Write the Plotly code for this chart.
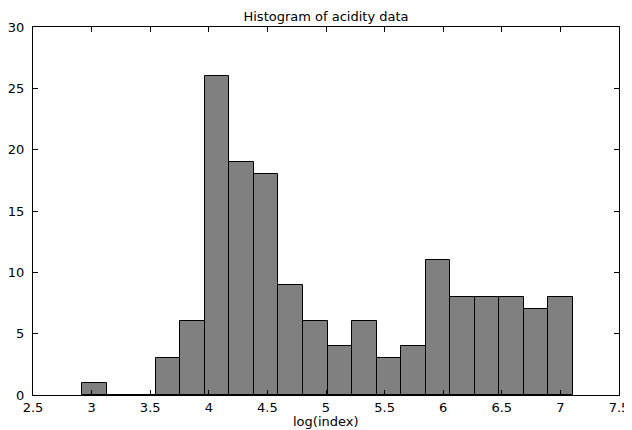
import plotly.graph_objects as go

# Histogram of acidity data (20 bins)
bin_start = 2.921
bin_width = 0.2092
counts = [1, 0, 0, 3, 6, 26, 19, 18, 9, 6, 4, 6, 3, 4, 11, 8, 8, 8, 7, 8]
x_ticks = [2.5, 3, 3.5, 4, 4.5, 5, 5.5, 6, 6.5, 7, 7.5]
x_tick_labels = ["2.5", "3", "3.5", "4", "4.5", "5", "5.5", "6", "6.5", "7", "7.5"]
y_ticks = [0, 5, 10, 15, 20, 25, 30]

centers = [bin_start + bin_width * (i + 0.5) for i in range(len(counts))]

font = dict(family="DejaVu Sans, Liberation Sans, Arial, sans-serif", size=13, color="black")

fig = go.Figure()
fig.add_trace(go.Bar(
    x=centers, y=counts, width=[bin_width] * len(counts),
    marker=dict(color="#808080", line=dict(color="black", width=1)),
    showlegend=False,
))

# page body has an 8px default margin, so the figure is sized 8px smaller
fig.update_layout(
    width=624, height=422,
    margin=dict(l=25, r=13, t=19, b=35, autoexpand=False),
    paper_bgcolor="white", plot_bgcolor="white",
    font=font,
    title=dict(text="Histogram of acidity data", x=0.5, xref="paper", xanchor="center",
               y=1, yref="paper", yanchor="bottom", pad=dict(b=6), font=font,
               automargin=False),
    bargap=0,
    annotations=[dict(text="log(index)", x=0.5, xref="paper", xanchor="center",
                      y=0, yref="paper", yanchor="top", yshift=-17,
                      showarrow=False, font=font)],
)
fig.update_xaxes(
    range=[2.5, 7.5], tickvals=x_ticks, ticktext=x_tick_labels, automargin=False,
    showline=True, linecolor="black", linewidth=1, mirror="ticks",
    ticks="inside", ticklen=5, tickcolor="black", showgrid=False, zeroline=False,
)
fig.update_yaxes(
    range=[0, 30], tickvals=y_ticks, automargin=False, ticklabelstandoff=5,
    showline=True, linecolor="black", linewidth=1, mirror="ticks",
    ticks="inside", ticklen=5, tickcolor="black", showgrid=False, zeroline=False,
)

fig.write_html("out.html")
